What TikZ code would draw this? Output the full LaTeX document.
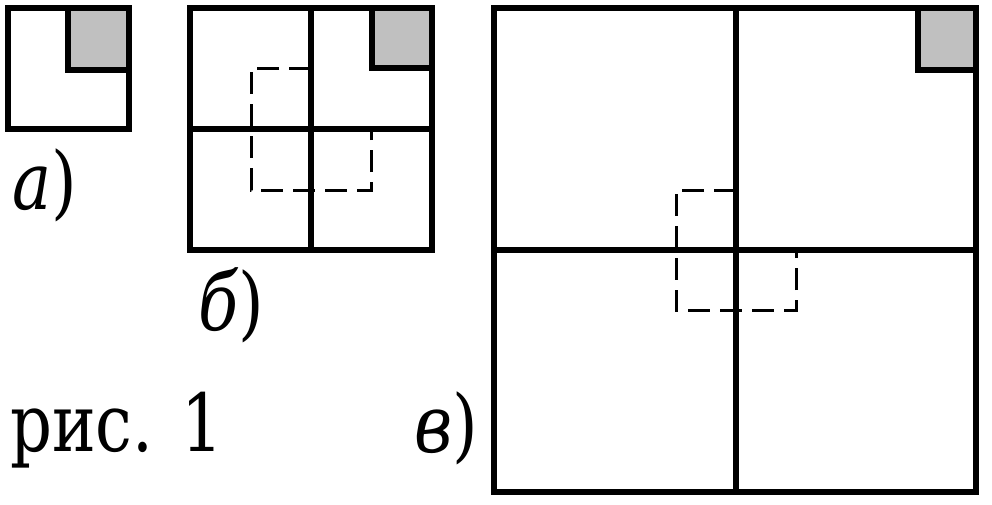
\documentclass[tikz,border=0pt]{standalone}
\usepackage{fontspec}
\newfontfamily\tnr{DejaVu Serif}[FakeStretch=0.82]
\definecolor{cellgray}{RGB}{192,192,192}
\begin{document}
\begin{tikzpicture}[x=1pt,y=-1pt,
  solid line/.style={line width=6pt},
  dash line/.style={line width=3pt,dash pattern=on 22pt off 10pt},
  lab/.style={anchor=base west,inner sep=0pt,font=\tnr\fontsize{80}{90}\selectfont}]
\useasboundingbox (0,0) rectangle (992,504);
% a)
\fill[cellgray] (68,8) rectangle (129,70);
\draw[solid line] (8,8) rectangle (129,129);
\draw[solid line] (68,8) -- (68,70) -- (129,70);
% b)
\fill[cellgray] (372,8) rectangle (432,68);
\draw[dash line] (311,68) -- (251,68) -- (251,190) -- (371,190) -- (371,129);
\draw[solid line] (190,8) rectangle (432,250);
\draw[solid line] (311,8) -- (311,250);
\draw[solid line] (190,129) -- (432,129);
\draw[solid line] (372,8) -- (372,68) -- (432,68);
% v)
\fill[cellgray] (918,8) rectangle (976,70);
\draw[dash line] (736,190) -- (676,190) -- (676,310) -- (796,310) -- (796,250);
\draw[solid line] (494,8) rectangle (976,492);
\draw[solid line] (736,8) -- (736,492);
\draw[solid line] (494,250) -- (976,250);
\draw[solid line] (918,8) -- (918,70) -- (976,70);
% labels
\node[lab] (la) at (12,209) {\textit{а})};
\node[lab] (lb) at (198,330) {\textit{б})};
\node[lab] (lc) at (10,451) {рис. 1};
\node[lab] (ld) at (414,452) {\textit{в})};
\end{tikzpicture}
\end{document}
